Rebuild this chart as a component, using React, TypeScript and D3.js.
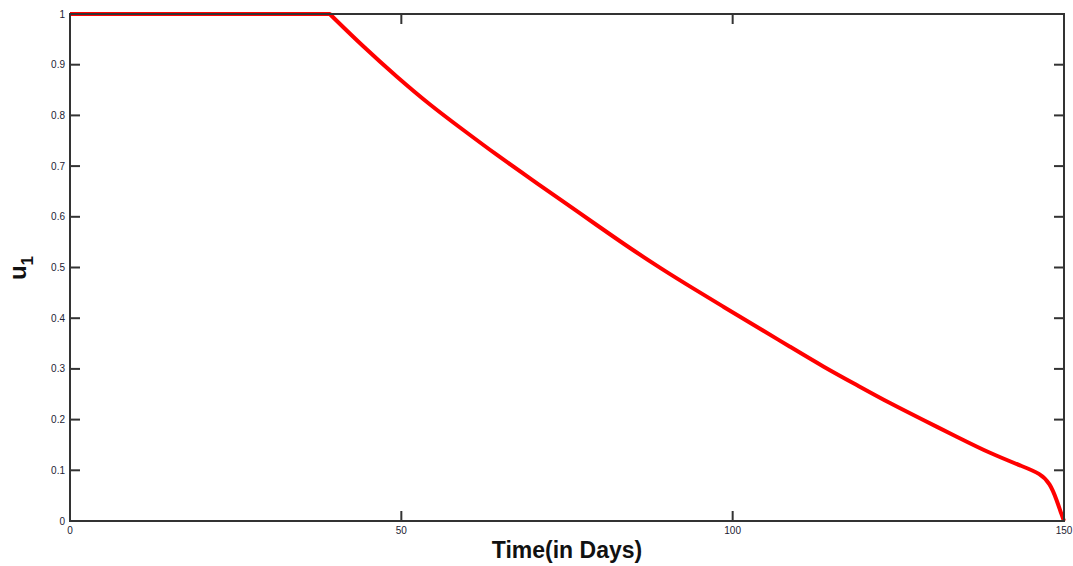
import React from "react";
import * as d3 from "d3";

// control u1 over time
const days = [0, 39.2, 44.26, 49.3, 54.33, 59.35, 64.39, 69.42, 74.44, 79.48, 84.51, 89.53, 93.56, 98.59, 103.63, 108.65, 113.68, 118.72, 123.74, 128.77, 133.81, 138.84, 143.86, 146.38, 147.89, 148.9, 149.65, 150];
const u1 = [1, 1, 0.9355, 0.8763, 0.8205, 0.7712, 0.7219, 0.6759, 0.6298, 0.5838, 0.5379, 0.4951, 0.4625, 0.4227, 0.3832, 0.3438, 0.3043, 0.2682, 0.2321, 0.1992, 0.1663, 0.1335, 0.1071, 0.094, 0.0744, 0.0414, 0.012, 0];
const xTicks = [0, 50, 100, 150];
const yTicks = [0, 0.1, 0.2, 0.3, 0.4, 0.5, 0.6, 0.7, 0.8, 0.9, 1];

const W = 1073, H = 566;
const left = 70, right = 1064, top = 14, bottom = 521;

const x = d3.scaleLinear().domain([0, 150]).range([left, right]);
const y = d3.scaleLinear().domain([0, 1]).range([bottom, top]);

const pts: [number, number][] = days.map((d, i) => [d, u1[i]]);

const flatLine = d3
	.line<[number, number]>()
	.x(d => x(d[0]))
	.y(d => y(d[1]));
// smoothing spline for the decaying part, keeps the read-off wobble out
const decayLine = d3
	.line<[number, number]>()
	.x(d => x(d[0]))
	.y(d => y(d[1]))
	.curve(d3.curveBasis);

const axisColor = "#333";
const tickLen = 10;
const font = "'Liberation Sans', Arial, sans-serif";

export default function App() {
	return (
		<svg width={W} height={H} style={{ position: "absolute", left: 0, top: 0, background: "#fff" }}>
			<path
				d={(flatLine(pts.slice(0, 2)) || "") + (decayLine(pts.slice(1)) || "").replace(/^M/, "L")}
				fill="none"
				stroke="#ff0000"
				strokeWidth={4}
				strokeLinejoin="round"/>
			<rect x={left} y={top} width={right - left} height={bottom - top} fill="none" stroke={axisColor} strokeWidth={2} />
			{yTicks.map(t => (
				<g key={"y" + t}>
					<line x1={left} x2={left + tickLen} y1={y(t)} y2={y(t)} stroke={axisColor} strokeWidth={2} />
					<line x1={right} x2={right - tickLen} y1={y(t)} y2={y(t)} stroke={axisColor} strokeWidth={2} />
					<text x={left - 5} y={y(t)} dy="0.35em" textAnchor="end" fontSize={10} fontFamily={font} fill="#223">
						{String(t)}
					</text>
				</g>
			))}
			{xTicks.map(t => (
				<g key={"x" + t}>
					<line x1={x(t)} x2={x(t)} y1={bottom} y2={bottom - tickLen} stroke={axisColor} strokeWidth={2} />
					<line x1={x(t)} x2={x(t)} y1={top} y2={top + tickLen} stroke={axisColor} strokeWidth={2} />
					<text x={x(t)} y={bottom + 13} textAnchor="middle" fontSize={10} fontFamily={font} fill="#223">
						{t}
					</text>
				</g>
			))}
			<text x={(left + right) / 2} y={558} textAnchor="middle" fontSize={23} fontWeight="bold" fontFamily={font} fill="#111">
				Time(in Days)
			</text>
			<text transform="translate(26, 268) rotate(-90)" textAnchor="middle" fontSize={24} fontWeight="bold" fontFamily={font} fill="#111">
				u<tspan fontSize={17} dy={7}>1</tspan>
			</text>
		</svg>
	);
}
